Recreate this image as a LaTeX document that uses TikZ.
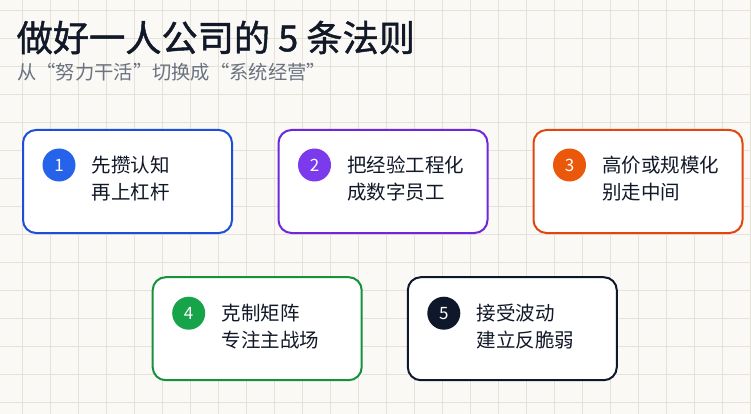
\documentclass[tikz,border=0pt]{standalone}
\usepackage{fontspec}
\newfontfamily\cjk{Noto Sans CJK SC}
\newfontfamily\cjktitle[FakeBold=1.2]{Noto Sans CJK SC}
\usetikzlibrary{positioning}

\definecolor{paper}{HTML}{FAF9F5}
\definecolor{gridc}{HTML}{E6E2D8}
\definecolor{ink}{HTML}{111827}
\definecolor{subgray}{HTML}{6B7280}
\definecolor{cblue}{HTML}{2563EB}
\definecolor{bblue}{HTML}{1D4ED8}
\definecolor{cpurple}{HTML}{7C3AED}
\definecolor{bpurple}{HTML}{6D28D9}
\definecolor{corange}{HTML}{EA580C}
\definecolor{borange}{HTML}{E2450F}
\definecolor{cgreen}{HTML}{16A34A}
\definecolor{bgreen}{HTML}{15923C}
\definecolor{cblack}{HTML}{0F172A}

\begin{document}
\begin{tikzpicture}[
  x=1pt, y=1pt,
  gridline/.style={gridc, line width=1pt},
  rule/.style={draw, line width=2pt, rounded corners=13pt, fill=white,
    minimum width=209pt, minimum height=103pt},
  num/.style={circle, minimum size=33pt, inner sep=0pt, text=white,
    font=\cjk\fontsize{17}{17}\selectfont},
  rtext/.style={align=left, inner sep=0pt, text=ink,
    font=\cjk\fontsize{19.5}{26.7}\selectfont}
]
\fill[paper] (0,0) rectangle (751,-414);
\useasboundingbox (0,0) rectangle (751,-414);
\foreach \gx in {0,...,26}
  \draw[gridline] (22.7+28*\gx,0) -- (22.7+28*\gx,-414);
\foreach \gy in {0,...,14}
  \draw[gridline] (0,-10.3-28*\gy) -- (751,-10.3-28*\gy);

% title
\node[anchor=west, inner sep=0pt, text=ink, font=\cjktitle\fontsize{36.2}{36.2}\selectfont]
  (title) at (16.5,-37.5) {做好一人公司的 5 条法则};
\node[anchor=west, inner sep=0pt, text=subgray, font=\cjk\fontsize{19.3}{19.3}\selectfont]
  (subtitle) at (17,-71.7) {从“努力干活”切换成“系统经营”};

% rules
\node[rule, draw=bblue] (r1) at (127.5,-181.5) {};
\node[rule, draw=bpurple] (r2) at (383,-181.5) {};
\node[rule, draw=borange] (r3) at (638,-181.5) {};
\node[rule, draw=bgreen] (r4) at (257.2,-328.7) {};
\node[rule, draw=cblack] (r5) at (512.3,-328.7) {};

\node[num, fill=cblue] (n1) at ([xshift=37pt,yshift=-36pt]r1.north west) {1};
\node[num, fill=cpurple] (n2) at ([xshift=37pt,yshift=-36pt]r2.north west) {2};
\node[num, fill=corange] (n3) at ([xshift=37pt,yshift=-36pt]r3.north west) {3};
\node[num, fill=cgreen] (n4) at ([xshift=37pt,yshift=-37pt]r4.north west) {4};
\node[num, fill=cblack] (n5) at ([xshift=37pt,yshift=-37pt]r5.north west) {5};

\node[rtext, anchor=west] (t1) at ([xshift=16pt,yshift=-13.3pt]n1.east) {先攒认知\\再上杠杆};
\node[rtext, anchor=west] (t2) at ([xshift=16pt,yshift=-13.3pt]n2.east) {把经验工程化\\成数字员工};
\node[rtext, anchor=west] (t3) at ([xshift=16pt,yshift=-13.3pt]n3.east) {高价或规模化\\别走中间};
\node[rtext, anchor=west] (t4) at ([xshift=16pt,yshift=-13.3pt]n4.east) {克制矩阵\\专注主战场};
\node[rtext, anchor=west] (t5) at ([xshift=16pt,yshift=-13.3pt]n5.east) {接受波动\\建立反脆弱};
\end{tikzpicture}
\end{document}
